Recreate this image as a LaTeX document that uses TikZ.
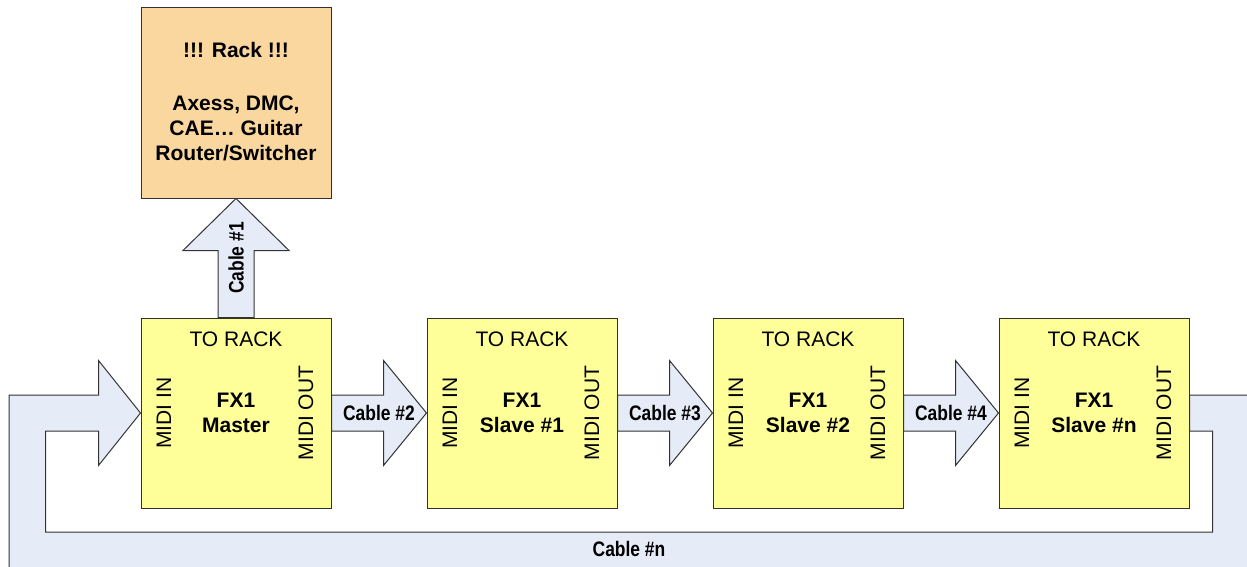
\documentclass[tikz,border=0pt]{standalone}
\usepackage{fontspec}
\setmainfont{Liberation Sans}
\usetikzlibrary{calc}
\definecolor{rackfill}{RGB}{251,215,160}
\definecolor{fxfill}{RGB}{255,255,153}
\definecolor{cablefill}{RGB}{230,236,247}
\definecolor{edge}{RGB}{50,50,50}
\tikzset{
  fxbox/.style={draw=edge, line width=0.75pt, fill=fxfill, minimum width=142.5pt, minimum height=142.5pt, inner sep=0pt},
  rackbox/.style={draw=edge, line width=0.75pt, fill=rackfill, minimum width=142.5pt, minimum height=142.5pt, inner sep=0pt},
  blockarrow/.style={draw=edge, line width=0.75pt, fill=cablefill, line join=miter},
  txt/.style={font=\fontsize{15.75}{18.75}\selectfont, inner sep=0pt, align=center},
  btxt/.style={font=\fontsize{15.75}{18.75}\selectfont\bfseries, inner sep=0pt, align=center},
  ctxt/.style={font=\fontsize{15.75}{18.75}\selectfont\bfseries, inner sep=0pt},
}
\newcommand{\hcable}[4]{%
  \draw[blockarrow] ($(#1.east)+(0,-18)$) -- ($(#2.west)+(-43,-18)$) -- ($(#2.west)+(-43,-52.5)$) -- (#2.west)
    -- ($(#2.west)+(-43,52.5)$) -- ($(#2.west)+(-43,18)$) -- ($(#1.east)+(0,18)$) -- cycle;
  \node[ctxt] (#4) at ($(#1.east)!0.5!(#2.west)$) {\scalebox{0.83}[1]{#3}};%
}
\begin{document}
\begin{tikzpicture}[x=0.75pt,y=-0.75pt]
\useasboundingbox (0,0) rectangle (1247,567);
\clip (0,0) rectangle (1247,567);

% boxes
\node[rackbox] (rack) at (236,103) {};
\node[txt] (racktxt) at (236,101.5) {\bfseries !!! Rack !!!\\[21pt]\bfseries Axess, DMC,\\\bfseries CAE… Guitar\\\bfseries Router/Switcher};

\node[fxbox] (m) at (236,413) {};
\node[fxbox] (s1) at (522,413) {};
\node[fxbox] (s2) at (808,413) {};
\node[fxbox] (sn) at (1094,413) {};

% loop cable (Cable #n)
\draw[blockarrow] (m.west) -- ($(m.west)+(-42,52.5)$) -- ($(m.west)+(-42,18)$) -- ($(m.west)+(-95,18)$)
  -- ($(m.west)+(-95,119)$) -- ($(sn.east)+(23,119)$) -- ($(sn.east)+(23,18)$) -- ($(sn.east)+(0,18)$)
  -- ($(sn.east)+(0,-18)$) -- ($(sn.east)+(80,-18)$) -- ($(sn.east)+(80,180)$) -- ($(m.west)+(-131.5,180)$)
  -- ($(m.west)+(-131.5,-18)$) -- ($(m.west)+(-42,-18)$) -- ($(m.west)+(-42,-52.5)$) -- cycle;
\node[ctxt] (cn) at (629,549) {\scalebox{0.83}[1]{Cable \#n}};

% Cable #1
\draw[blockarrow] ($(m.north)+(-18,0)$) -- ($(rack.south)+(-18,52)$) -- ($(rack.south)+(-53,52)$) -- (rack.south)
  -- ($(rack.south)+(53,52)$) -- ($(rack.south)+(18,52)$) -- ($(m.north)+(18,0)$) -- cycle;
\node[ctxt, rotate=90] (c1) at (236,258) {\scalebox{0.83}[1]{Cable \#1}};

% chain cables
\hcable{m}{s1}{Cable \#2}{c2}
\hcable{s1}{s2}{Cable \#3}{c3}
\hcable{s2}{sn}{Cable \#4}{c4}

% box texts
\foreach \b/\name in {m/Master, s1/Slave \#1, s2/Slave \#2, sn/Slave \#n}{
  \node[txt] (\b-tr) at ($(\b.center)+(0,-74)$) {TO RACK};
  \node[btxt] (\b-fx) at ($(\b.center)+(0,-0.5)$) {FX1\\\name};
  \node[txt, rotate=90] (\b-in) at ($(\b.center)+(-72,0)$) {MIDI IN};
  \node[txt, rotate=90] (\b-out) at ($(\b.center)+(70,0)$) {MIDI OUT};
}
\end{tikzpicture}
\end{document}
